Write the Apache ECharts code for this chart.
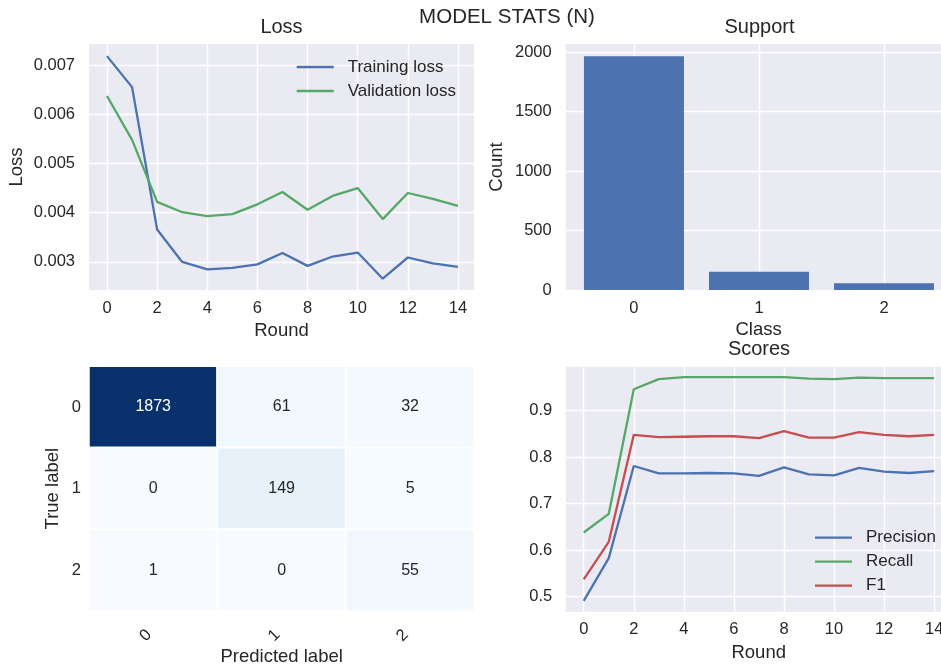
<!DOCTYPE html>
<html>
<head>
<meta charset="utf-8">
<script src="https://cdn.jsdelivr.net/npm/echarts@6/dist/echarts.min.js"></script>
<style>
html,body{margin:0;padding:0;background:#fff;overflow:hidden;}
#chart{width:941px;height:668px;}
</style>
</head>
<body>
<div id="chart"></div>
<script>
// ---- data ----
const rounds = [0,1,2,3,4,5,6,7,8,9,10,11,12,13,14];
const trainingLoss = [0.00718,0.00655,0.00366,0.00300,0.00285,0.00288,0.00295,0.00318,0.00292,0.00311,0.00319,0.00266,0.00309,0.00297,0.00290];
const validationLoss = [0.00637,0.00548,0.00422,0.00401,0.00393,0.00397,0.00417,0.00442,0.00406,0.00434,0.00450,0.00387,0.00440,0.00428,0.00414];
const supportClasses = [0,1,2];
const supportCounts = [1966,154,56];
const cmLabels = ['0','1','2'];
const confusion = [[1873,61,32],[0,149,5],[1,0,55]];
const precision = [0.491,0.583,0.781,0.765,0.765,0.766,0.765,0.760,0.778,0.763,0.761,0.777,0.769,0.766,0.770];
const recall = [0.638,0.678,0.946,0.968,0.972,0.972,0.972,0.972,0.972,0.969,0.968,0.971,0.970,0.970,0.970];
const f1 = [0.537,0.618,0.848,0.843,0.844,0.845,0.845,0.841,0.856,0.842,0.842,0.854,0.848,0.845,0.848];
const roundTicks = [0,2,4,6,8,10,12,14];
const lossTicks = [0.003,0.004,0.005,0.006,0.007];
const countTicks = [0,500,1000,1500,2000];
const scoreTicks = [0.5,0.6,0.7,0.8,0.9];

// ---- style ----
const FONT = '"Liberation Sans", Arial, sans-serif';
const TXT = '#262626';
const BG = '#EAEAF2';
const BLUE = '#4C72B0', GREEN = '#55A868', RED = '#C44E52';
const BLUES = ['#f7fbff','#deebf7','#c6dbef','#9ecae1','#6baed6','#4292c6','#2171b5','#08519c','#08306b'];
const LW = 2.3;

function tickLabel(ticks, margin) {
  return {customValues: ticks, color: TXT, fontSize: 16.5, fontFamily: FONT, margin: margin,
          formatter: v => String(v)};
}
function valAxis(gridIndex, min, max, ticks, extra) {
  return Object.assign({
    type: 'value', gridIndex, min, max,
    axisLine: {show: false}, axisTick: {show: false, customValues: ticks},
    axisLabel: tickLabel(ticks, 10),
    splitLine: {show: true, lineStyle: {color: '#ffffff', width: 1.4}},
    nameTextStyle: {color: TXT, fontSize: 18.5, fontFamily: FONT},
    nameLocation: 'middle'
  }, extra || {});
}
function legendOpt(left, top, names) {
  return {orient: 'vertical', left, top, icon: 'rect', itemWidth: 37, itemHeight: LW, itemGap: 0,
          data: names, padding: 0,
          textStyle: {color: TXT, fontSize: 17, fontFamily: FONT, lineHeight: 24, padding: [0, 0, 0, 9]}};
}

const chart = echarts.init(document.getElementById('chart'), null, {renderer: 'canvas'});

const heatData = [];
confusion.forEach((row, r) => row.forEach((v, c) => {
  heatData.push({value: [c, r, v], label: {color: v > 900 ? '#ffffff' : TXT}});
}));

const gridBase = {show: true, backgroundColor: BG, borderWidth: 0, outerBoundsMode: 'none', containLabel: false};

const option = {
  backgroundColor: '#ffffff',
  animation: false,
  textStyle: {fontFamily: FONT},
  graphic: [
    {type: 'text', x: 507, y: 17.5, style: {text: 'MODEL STATS (N)', fontSize: 20.5, fontFamily: FONT, fill: TXT, align: 'center', verticalAlign: 'middle'}},
    {type: 'text', x: 281.5, y: 27.5, style: {text: 'Loss', fontSize: 20, fontFamily: FONT, fill: TXT, align: 'center', verticalAlign: 'middle'}},
    {type: 'text', x: 759.5, y: 27.5, style: {text: 'Support', fontSize: 20, fontFamily: FONT, fill: TXT, align: 'center', verticalAlign: 'middle'}},
    {type: 'text', x: 759, y: 349.5, style: {text: 'Scores', fontSize: 20, fontFamily: FONT, fill: TXT, align: 'center', verticalAlign: 'middle'}}
  ],
  grid: [
    Object.assign({left: 89, top: 44, width: 385, height: 246}, gridBase),
    Object.assign({left: 565.7, top: 44, width: 385.8, height: 246}, gridBase),
    Object.assign({left: 89, top: 366.3, width: 385.3, height: 244.7}, gridBase, {show: false}),
    Object.assign({left: 565.7, top: 366.7, width: 386, height: 245}, gridBase)
  ],
  xAxis: [
    valAxis(0, -0.718, 14.64, roundTicks, {name: 'Round', nameGap: 31, axisLabel: tickLabel(roundTicks, 10)}),
    valAxis(1, -0.546, 2.54, supportClasses, {name: 'Class', nameGap: 30.5, axisLabel: tickLabel(supportClasses, 10)}),
    {type: 'category', gridIndex: 2, data: cmLabels, name: 'Predicted label', nameLocation: 'middle', nameGap: 35,
     nameTextStyle: {color: TXT, fontSize: 18.5, fontFamily: FONT},
     axisLine: {show: false}, axisTick: {show: false}, splitLine: {show: false},
     axisLabel: {rotate: 45, color: TXT, fontSize: 16.5, fontFamily: FONT, margin: 17, padding: [0, 6, 0, 0]}},
    valAxis(3, -0.72, 14.7, roundTicks, {name: 'Round', nameGap: 32, axisLabel: tickLabel(roundTicks, 9)})
  ],
  yAxis: [
    valAxis(0, 0.00243, 0.007426, lossTicks, {name: 'Loss', nameGap: 63, axisLabel: tickLabel(lossTicks, 14)}),
    valAxis(1, 0, 2068, countTicks, {name: 'Count', nameGap: 59, axisLabel: tickLabel(countTicks, 14)}),
    {type: 'category', gridIndex: 2, data: cmLabels, inverse: true, name: 'True label', nameLocation: 'middle', nameGap: 27,
     nameTextStyle: {color: TXT, fontSize: 18.5, fontFamily: FONT},
     axisLine: {show: false}, axisTick: {show: false}, splitLine: {show: false},
     axisLabel: {color: TXT, fontSize: 16.5, fontFamily: FONT, margin: 8}},
    valAxis(3, 0.4677, 0.9946, scoreTicks, {axisLabel: tickLabel(scoreTicks, 13.5)})
  ],
  legend: [
    legendOpt(296.7, 55, ['Training loss', 'Validation loss']),
    legendOpt(815, 525.7, ['Precision', 'Recall', 'F1'])
  ],
  visualMap: {type: 'continuous', show: false, min: 0, max: 1873, seriesIndex: 3, inRange: {color: BLUES}},
  series: [
    {name: 'Training loss', type: 'line', xAxisIndex: 0, yAxisIndex: 0, symbol: 'none', color: BLUE,
     lineStyle: {width: LW, color: BLUE}, data: rounds.map((r, i) => [r, trainingLoss[i]])},
    {name: 'Validation loss', type: 'line', xAxisIndex: 0, yAxisIndex: 0, symbol: 'none', color: GREEN,
     lineStyle: {width: LW, color: GREEN}, data: rounds.map((r, i) => [r, validationLoss[i]])},
    {name: 'Support', type: 'bar', xAxisIndex: 1, yAxisIndex: 1, barWidth: 100, itemStyle: {color: BLUE},
     data: supportClasses.map((c, i) => [c, supportCounts[i]])},
    {name: 'Confusion', type: 'heatmap', xAxisIndex: 2, yAxisIndex: 2, data: heatData,
     itemStyle: {borderColor: '#ffffff', borderWidth: 2},
     label: {show: true, fontSize: 16, fontFamily: FONT}},
    {name: 'Precision', type: 'line', xAxisIndex: 3, yAxisIndex: 3, symbol: 'none', color: BLUE,
     lineStyle: {width: LW, color: BLUE}, data: rounds.map((r, i) => [r, precision[i]])},
    {name: 'Recall', type: 'line', xAxisIndex: 3, yAxisIndex: 3, symbol: 'none', color: GREEN,
     lineStyle: {width: LW, color: GREEN}, data: rounds.map((r, i) => [r, recall[i]])},
    {name: 'F1', type: 'line', xAxisIndex: 3, yAxisIndex: 3, symbol: 'none', color: RED,
     lineStyle: {width: LW, color: RED}, data: rounds.map((r, i) => [r, f1[i]])}
  ]
};
chart.setOption(option);
</script>
</body>
</html>
